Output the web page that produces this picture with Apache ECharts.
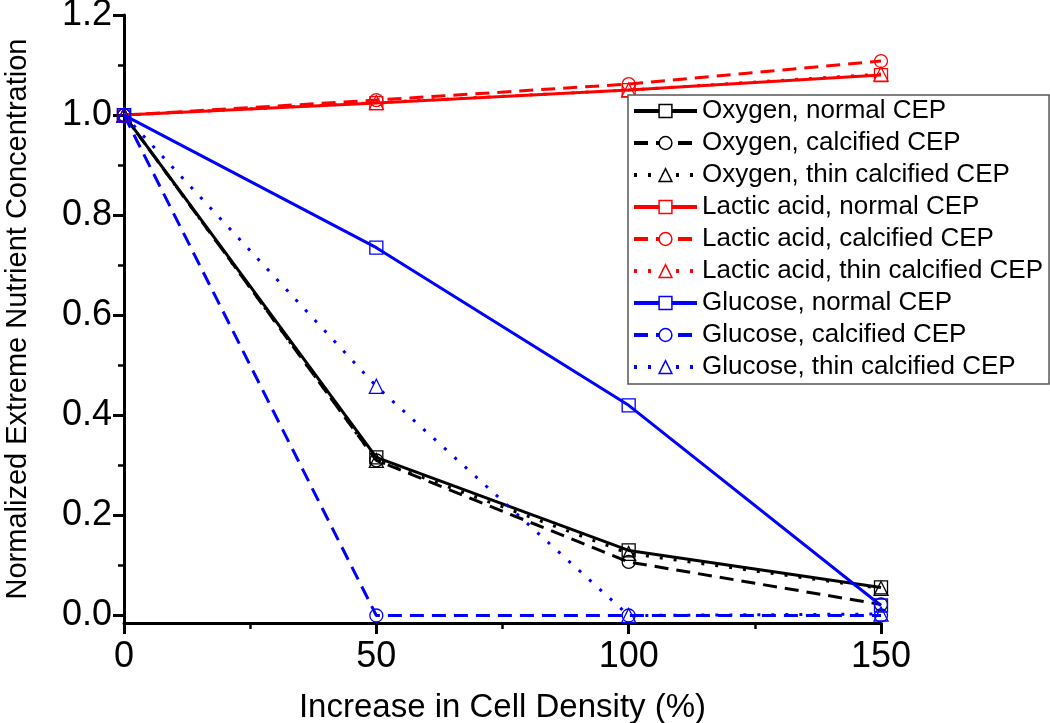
<!DOCTYPE html>
<html>
<head>
<meta charset="utf-8">
<script src="https://cdn.jsdelivr.net/npm/echarts@6/dist/echarts.min.js"></script>
<style>
html,body{margin:0;padding:0;background:#fff;}
#c{width:1050px;height:723px;}
</style>
</head>
<body>
<div id="c"></div>
<script>
const xValues = [0, 50, 100, 150];
const oxygenNormal     = [1.0, 0.316, 0.130, 0.056];
const oxygenCalcified  = [1.0, 0.310, 0.107, 0.022];
const oxygenThin       = [1.0, 0.310, 0.124, 0.054];
const lacticNormal     = [1.0, 1.024, 1.050, 1.080];
const lacticCalcified  = [1.0, 1.030, 1.062, 1.108];
const lacticThin       = [1.0, 1.025, 1.050, 1.082];
const glucoseNormal    = [1.0, 0.735, 0.420, 0.020];
const glucoseCalcified = [1.0, 0.000, 0.000, 0.000];
const glucoseThin      = [1.0, 0.458, 0.000, 0.003];
const yMajorTicks = [0, 0.2, 0.4, 0.6, 0.8, 1.0, 1.2];
const yMinorTicks = [0.1, 0.3, 0.5, 0.7, 0.9, 1.1];
const seriesNames = [
  'Oxygen, normal CEP', 'Oxygen, calcified CEP', 'Oxygen, thin calcified CEP',
  'Lactic acid, normal CEP', 'Lactic acid, calcified CEP', 'Lactic acid, thin calcified CEP',
  'Glucose, normal CEP', 'Glucose, calcified CEP', 'Glucose, thin calcified CEP'
];
const seriesValues = [oxygenNormal, oxygenCalcified, oxygenThin, lacticNormal, lacticCalcified, lacticThin, glucoseNormal, glucoseCalcified, glucoseThin];

const colors = ['#000000', '#000000', '#000000', '#ff0000', '#ff0000', '#ff0000', '#0000ff', '#0000ff', '#0000ff'];
const symbols = ['rect', 'circle', 'triangle'];
const dashes = ['solid', [14, 8], [3, 11]];
const FONT = "'Liberation Sans', Arial, sans-serif";

const series = seriesNames.map((name, i) => ({
  name: name,
  type: 'line',
  data: xValues.map((x, j) => [x, seriesValues[i][j]]),
  symbol: symbols[i % 3],
  symbolSize: i % 3 === 2 ? 14 : 13,
  showAllSymbol: true,
  lineStyle: { color: colors[i], width: 3, type: dashes[i % 3] },
  itemStyle: { color: 'rgba(255,255,255,0)', borderColor: colors[i], borderWidth: 1.3 },
  emphasis: { disabled: true },
  animation: false
}));

const chart = echarts.init(document.getElementById('c'), null, { renderer: 'canvas' });
chart.setOption({
  backgroundColor: '#fff',
  animation: false,
  grid: { left: 124, right: 169, top: 15, bottom: 100, containLabel: false, outerBoundsMode: 'none' },
  legend: {
    orient: 'vertical',
    left: 628, top: 95,
    width: 420,
    data: seriesNames,
    itemWidth: 63, itemHeight: 16,
    itemGap: 6,
    padding: [3, 6, 4, 4],
    borderColor: '#555', borderWidth: 1.5,
    backgroundColor: '#fff',
    lineStyle: { width: 4 },
    itemStyle: { color: '#ffffff', borderWidth: 1.5 },
    textStyle: { fontFamily: FONT, fontSize: 26, color: '#000', lineHeight: 26, padding: [0, 0, 0, 0] }
  },
  xAxis: {
    type: 'value', min: 0, max: 150, interval: 50,
    name: 'Increase in Cell Density (%)',
    nameLocation: 'middle', nameGap: 68,
    nameTextStyle: { fontFamily: FONT, fontSize: 33, color: '#000' },
    axisLine: { onZero: false, lineStyle: { color: '#000', width: 3 } },
    axisTick: { inside: false, length: 11, lineStyle: { width: 3, color: '#000' } },
    minorTick: { show: true, splitNumber: 2, length: 6, lineStyle: { width: 2.5, color: '#000' } },
    axisLabel: { margin: 16, fontFamily: FONT, fontSize: 36, color: '#000' },
    splitLine: { show: false }
  },
  yAxis: [{
    type: 'value', min: -0.015, max: 1.2,
    name: 'Normalized Extreme Nutrient Concentration',
    nameLocation: 'middle', nameGap: 92, nameRotate: 90,
    nameTextStyle: { fontFamily: FONT, fontSize: 29, color: '#000' },
    axisLine: { lineStyle: { color: '#000', width: 3 } },
    axisTick: { length: 11, customValues: yMajorTicks, lineStyle: { width: 3, color: '#000' } },
    axisLabel: { margin: 12, customValues: yMajorTicks, formatter: v => v.toFixed(1), fontFamily: FONT, fontSize: 36, color: '#000' },
    splitLine: { show: false }
  }, {
    type: 'value', min: -0.015, max: 1.2, position: 'left',
    axisLine: { show: false },
    axisTick: { length: 6, customValues: yMinorTicks, lineStyle: { width: 2.5, color: '#000' } },
    axisLabel: { show: false, customValues: yMinorTicks },
    splitLine: { show: false }
  }],
  series: series
});
</script>
</body>
</html>
